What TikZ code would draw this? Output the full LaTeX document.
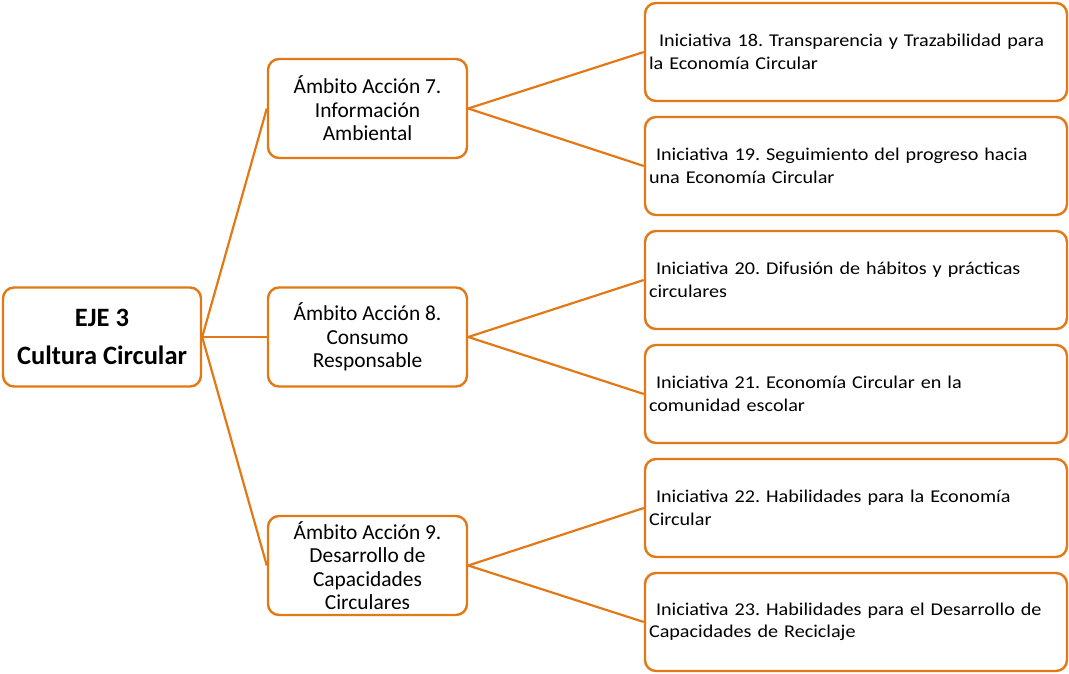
\documentclass[tikz,border=0pt]{standalone}
\usepackage{fontspec}
\setmainfont{Carlito}
\newfontfamily\inifont{Carlito}[FakeStretch=1.12]
\definecolor{orn}{RGB}{226,120,22}
\tikzset{
  box/.style={draw=orn, line width=2.4pt, rounded corners=11pt, fill=white},
  rootbox/.style={box, minimum width=198pt, minimum height=99pt, align=center, font=\fontsize{26.5}{38}\selectfont\bfseries\frenchspacing},
  midbox/.style={box, minimum width=199pt, minimum height=99pt, align=center, font=\fontsize{21.4}{23.5}\selectfont\frenchspacing},
  inibox/.style={box, text width=414pt, inner xsep=4pt, minimum height=98pt, align=left, font=\inifont\fontsize{18}{22.5}\selectfont\frenchspacing},
  link/.style={draw=orn, line width=2.2pt}
}
\begin{document}
\begin{tikzpicture}[x=1pt,y=-1pt]
\useasboundingbox (0,0) rectangle (1069,674);
\node[rootbox] (root) at (102,337) {EJE 3\\Cultura Circular};
\node[midbox] (m7) at (367.5,108.5) {Ámbito Acción 7.\\Información\\Ambiental};
\node[midbox] (m8) at (367.5,337) {Ámbito Acción 8.\\Consumo\\Responsable};
\node[midbox] (m9) at (367.5,565.5) {Ámbito Acción 9.\\Desarrollo de\\Capacidades\\Circulares};
\node[inibox] (i18) at (856,52) {\hspace*{10pt}Iniciativa 18. Transparencia y Trazabilidad para\\la Economía Circular};
\node[inibox] (i19) at (856,166) {\hspace*{7pt}Iniciativa 19. Seguimiento del progreso hacia\\una Economía Circular};
\node[inibox] (i20) at (856,280) {\hspace*{7pt}Iniciativa 20. Difusión de hábitos y prácticas\\circulares};
\node[inibox] (i21) at (856,394) {\hspace*{7pt}Iniciativa 21. Economía Circular en la\\comunidad escolar};
\node[inibox] (i22) at (856,508) {\hspace*{7pt}Iniciativa 22. Habilidades para la Economía\\Circular};
\node[inibox] (i23) at (856,622) {\hspace*{7pt}Iniciativa 23. Habilidades para el Desarrollo de\\Capacidades de Reciclaje};
\draw[link] (root.east) -- (m7.west);
\draw[link] (root.east) -- (m8.west);
\draw[link] (root.east) -- (m9.west);
\draw[link] (m7.east) -- (i18.west);
\draw[link] (m7.east) -- (i19.west);
\draw[link] (m8.east) -- (i20.west);
\draw[link] (m8.east) -- (i21.west);
\draw[link] (m9.east) -- (i22.west);
\draw[link] (m9.east) -- (i23.west);
\end{tikzpicture}
\end{document}
